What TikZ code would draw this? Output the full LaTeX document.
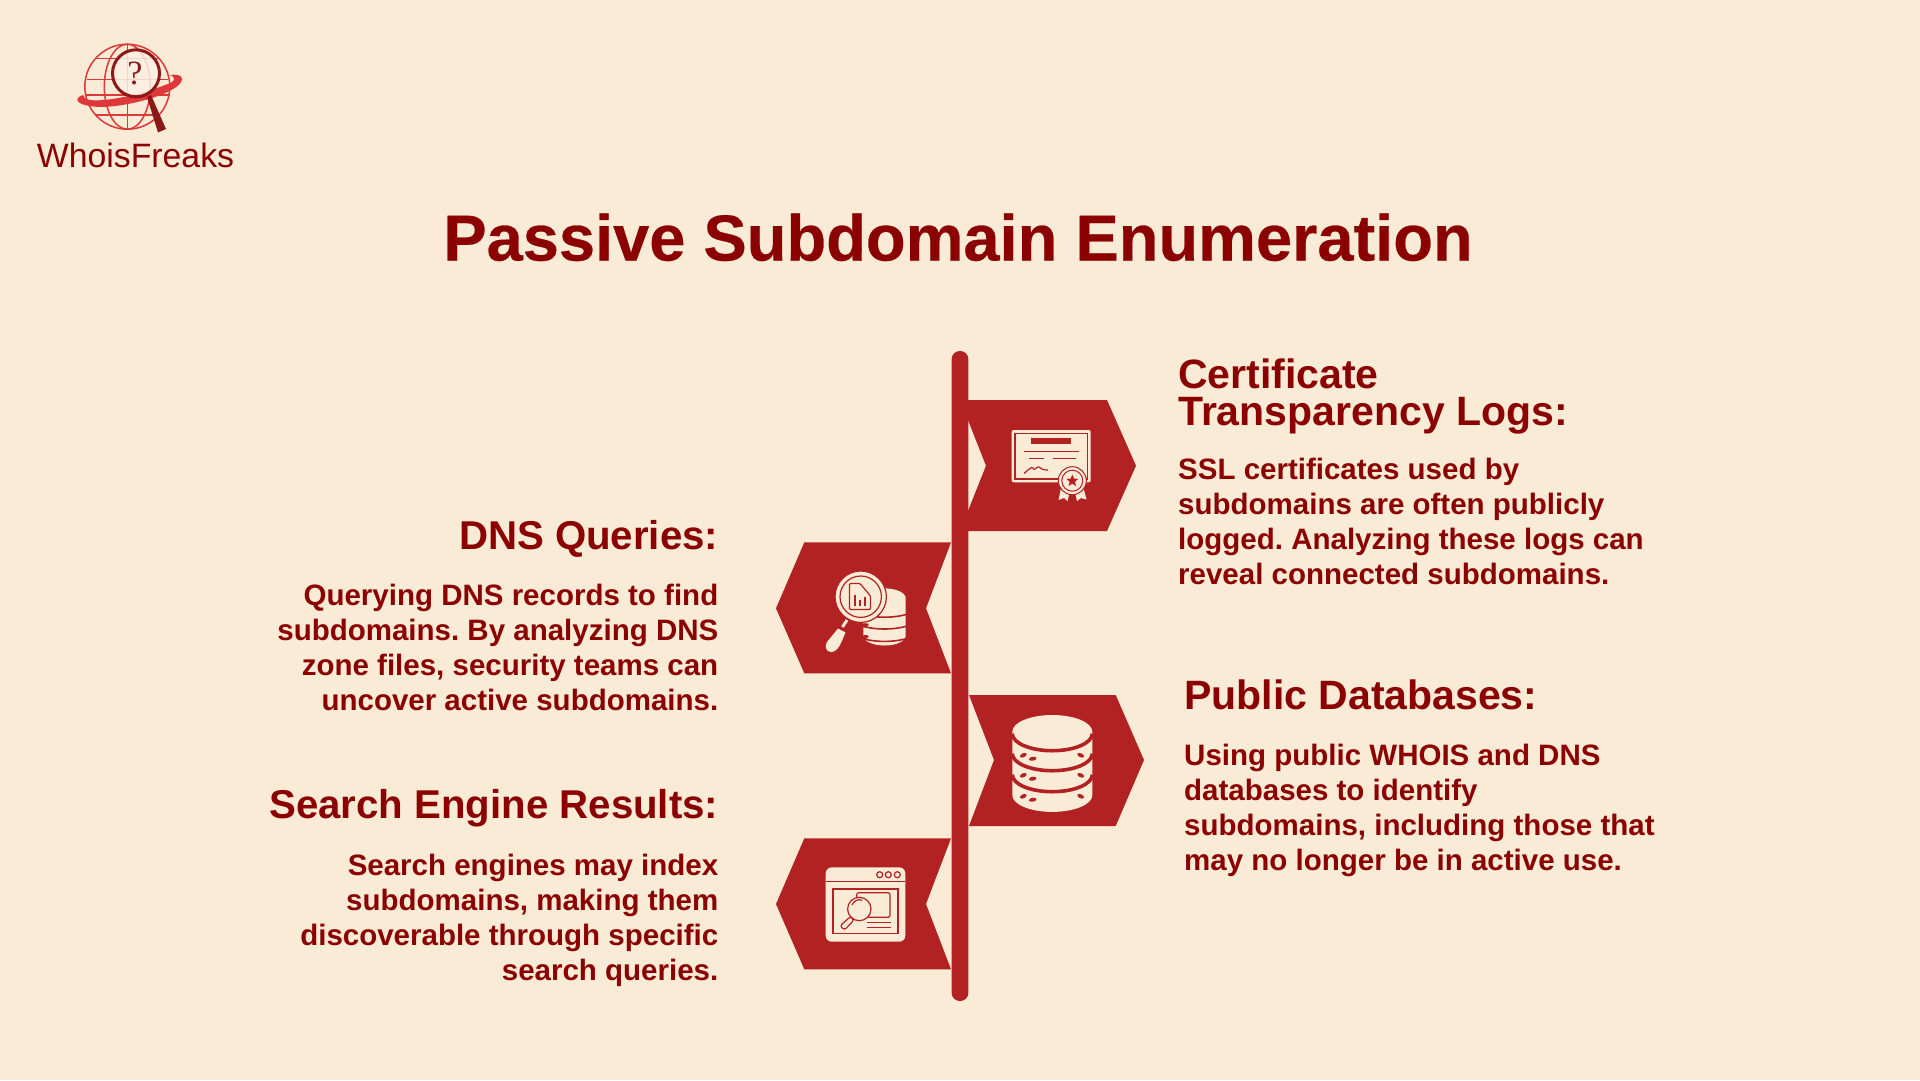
\documentclass[tikz,border=0pt]{standalone}
\usepackage{fontspec}
\setmainfont{Liberation Sans}
\newfontfamily\titlefont[BoldFeatures={FakeBold=0.4}]{Liberation Sans}
\frenchspacing
\definecolor{pagebg}{RGB}{250,235,215}
\definecolor{flagred}{RGB}{178,34,34}
\definecolor{inkred}{RGB}{139,0,0}
\definecolor{globered}{RGB}{222,56,56}
\definecolor{lensred}{RGB}{140,24,24}
\definecolor{lensfill}{RGB}{255,240,228}
\tikzset{
  titletext/.style={inkred, inner sep=0, anchor=base, font=\titlefont\fontsize{65}{65}\bfseries\selectfont},
  headleft/.style={inkred, inner sep=0, anchor=base east, font=\fontsize{40.2}{40}\bfseries\selectfont},
  headright/.style={inkred, inner sep=0, anchor=base west, font=\fontsize{41}{36.7}\bfseries\selectfont},
  bodyleft/.style={inkred, inner sep=0, anchor=north east, align=right, font=\fontsize{29.5}{35}\bfseries\selectfont},
  bodyright/.style={inkred, inner sep=0, anchor=north west, align=left, font=\fontsize{29.5}{35}\bfseries\selectfont},
  flagbody/.style={fill=flagred},
  iconfill/.style={fill=pagebg},
  iconline/.style={draw=flagred, line width=1.2pt},
  globeline/.style={draw=globered, line width=1.5pt},
  dbsep/.style={draw=flagred, line width=3.6pt},
  dblayer/.pic={
    \draw[dbsep] (-40,2) arc[start angle=180, end angle=0, x radius=40, y radius=17];
    \fill[flagred, rotate around={25:(-29,23.6)}] (-29,23.6) ellipse[x radius=3.6, y radius=2];
    \fill[flagred, rotate around={10:(-19.6,27)}] (-19.6,27) ellipse[x radius=3.8, y radius=2];
    \fill[flagred, rotate around={-25:(28.4,23.6)}] (28.4,23.6) ellipse[x radius=3.6, y radius=2];
  },
  dbstack/.pic={
    \fill[pagebg] (-40,0) arc[start angle=180, end angle=360, x radius=40, y radius=16.7] -- (40,63.5) arc[start angle=0, end angle=180, x radius=40, y radius=16.7] -- cycle;
    \pic at (0,0) {dblayer};
    \pic at (0,20) {dblayer};
    \pic at (0,41) {dblayer};
  },
}
\begin{document}
\begin{tikzpicture}[x=1pt, y=-1pt]
\useasboundingbox (0,0) rectangle (1920,1080);
\fill[pagebg] (0,0) rectangle (1920,1080);

\draw[globeline] (127.3,86.7) circle (42.5);
\draw[globeline] (127.3,86.7) ellipse[x radius=23, y radius=42.5];
\draw[globeline] (127.3,44.2) -- (127.3,129.2);
\draw[globeline] (96,58.5) -- (158,58.5);
\draw[globeline] (86.5,79.5) -- (168,79.5);
\draw[globeline] (85,95) -- (170,95);
\draw[globeline] (95,115) -- (159,115);
\fill[globered] (83,95) .. controls (73,98) and (75,106) .. (100,107) .. controls (130,107) and (182,92) .. (182,79) .. controls (182,75) and (176,74) .. (170,75) .. controls (177,78) and (175,82) .. (165,85) .. controls (140,95) and (105,102) .. (90,100) .. controls (85,99) and (83,97) .. (83,95) -- cycle;
\draw[draw=lensred, line width=3pt, fill=lensfill, fill opacity=0.85] (136,73.3) circle (23.5);
\fill[lensred] (147,97) -- (151,95) -- (166,129) -- (158,132.5) -- cycle;
\node[lensred, inner sep=0] (lensmark) at (135,73.3) {\fontspec{Liberation Serif}\fontsize{34}{34}\selectfont ?};
\node[inkred, inner sep=0, anchor=base] (logoname) at (135.5,167) {\fontsize{33.8}{34}\selectfont WhoisFreaks};

\node[titletext] (maintitle) at (958,260.5) {Passive Subdomain Enumeration};

\fill[flagred, rounded corners=8pt] (951.7,351) rectangle (968.3,1001);
\fill[flagbody] (960,400) -- (1107,400) -- (1136,465.7) -- (1107,531) -- (960,531) -- (986,465.7) -- cycle;
\fill[flagbody] (951,542.3) -- (804.3,542.3) -- (776,608.3) -- (804.3,673.3) -- (951,673.3) -- (926,608.3) -- cycle;
\fill[flagbody] (969,695) -- (1115.7,695) -- (1144,760) -- (1115.7,826) -- (969,826) -- (994,760) -- cycle;
\fill[flagbody] (951,838.3) -- (804.3,838.3) -- (776,904) -- (804.3,969.3) -- (951,969.3) -- (926,904) -- cycle;

\fill[iconfill, rounded corners=2pt] (1011.7,430) rectangle (1090.7,482.3);
\draw[iconline] (1015,433.3) rectangle (1087.3,479);
\fill[flagred] (1030.7,438) rectangle (1071,444);
\draw[iconline] (1024,451.7) -- (1079,451.7);
\draw[iconline] (1029,458.3) -- (1044,458.3);
\draw[iconline] (1052.7,458.3) -- (1076,458.3);
\draw[iconline] (1024,473.5) .. controls (1028,470) and (1032,466) .. (1033,468) .. controls (1034,472) and (1037,466) .. (1039,467) .. controls (1041,469) and (1043,470) .. (1048,470);
\fill[iconfill] (1061,488) -- (1058.5,500) -- (1064,498) -- (1067.5,501) -- (1070,491) -- cycle;
\fill[iconfill] (1083.5,488) -- (1086.5,499.5) -- (1081,498) -- (1077,501) -- (1074.5,491) -- cycle;
\draw[iconfill, draw=flagred, line width=1pt] (1072.3,480.7) circle (14);
\draw[flagred, line width=1pt] (1072.3,480.7) circle (10.5);
\fill[flagred] (1072.3,474.5) -- (1074,478.6) -- (1078.2,478.9) -- (1075,481.7) -- (1076,486) -- (1072.3,483.7) -- (1068.6,486) -- (1069.6,481.7) -- (1066.4,478.9) -- (1070.6,478.6) -- cycle;

\pic[xscale=0.53, yscale=0.59, dbsep/.style={draw=flagred, line width=1.6pt}] at (884.5,598.2) {dbstack};
\draw[pagebg, line width=3pt] (847,620) -- (842.5,627);
\fill[iconfill] (838,628.5) -- (845.5,632.5) .. controls (842,640) and (839,652) .. (831,652) .. controls (825,652) and (825,645) .. (827,642) -- cycle;
\draw[iconfill, draw=flagred, line width=1.2pt] (860.7,596.7) circle (25.7);
\draw[iconline] (860.7,596.7) circle (20.7);
\draw[iconline, rounded corners=1pt] (849.5,583.5) -- (860,583.5) -- (870.5,596) -- (870.5,609.5) -- (849.5,609.5) -- cycle;
\draw[iconline] (855,595) -- (855,606);
\draw[iconline] (860,600) -- (860,606);
\draw[iconline] (865,597) -- (865,606);

\pic at (1052.3,731.7) {dbstack};

\fill[iconfill, rounded corners=6pt] (825.7,867.3) rectangle (905.3,941.7);
\draw[iconline] (825.7,881.7) -- (905.3,881.7);
\draw[iconline] (879.7,874.7) circle (3);
\draw[iconline] (888.3,874.7) circle (3);
\draw[iconline] (897.3,874.7) circle (3);
\draw[iconline] (833,889) rectangle (898,933.3);
\draw[iconline, rounded corners=2pt] (856.7,892.7) rectangle (890,917.3);
\draw[iconfill, draw=flagred, line width=1.2pt] (859.3,909) circle (11.7);
\draw[iconline] (852,905) arc[start angle=200, end angle=290, radius=8];
\draw[iconline, rounded corners=2.5pt, iconfill] (850.5,916.5) -- (854,920) -- (844.5,930) -- (840,926) -- cycle;
\draw[iconline] (866.7,922.3) -- (890.7,922.3);
\draw[iconline] (866.7,927.3) -- (890.7,927.3);

\node[headright, align=left, anchor=north west] (certhead) at (1178,359) {Certificate\\Transparency Logs:};
\node[bodyright] (certbody) at (1178,457.7) {SSL certificates used by\\subdomains are often publicly\\logged. Analyzing these logs can\\reveal connected subdomains.};
\node[headright] (publichead) at (1184,709) {Public Databases:};
\node[bodyright] (publicbody) at (1184,743.7) {Using public WHOIS and DNS\\databases to identify\\subdomains, including those that\\may no longer be in active use.};
\node[headleft] (dnshead) at (718.5,549) {DNS Queries:};
\node[bodyleft] (dnsbody) at (718.5,583.7) {Querying DNS records to find\\subdomains. By analyzing DNS\\zone files, security teams can\\uncover active subdomains.};
\node[headleft] (searchhead) at (718.5,818) {Search Engine Results:};
\node[bodyleft] (searchbody) at (718.5,853.7) {Search engines may index\\subdomains, making them\\discoverable through specific\\search queries.};
\end{tikzpicture}
\end{document}
